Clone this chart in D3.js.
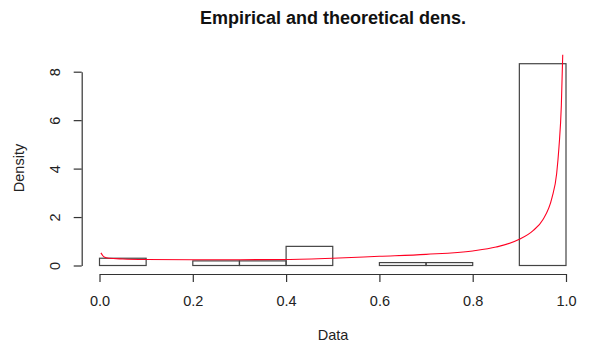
<!DOCTYPE html>
<html>
<head>
<meta charset="utf-8">
<script src="https://cdn.jsdelivr.net/npm/d3@7"></script>
<style>
  html, body { margin: 0; padding: 0; background: #fff; }
  svg { display: block; font-family: "Liberation Sans", Arial, Helvetica, sans-serif; }
</style>
</head>
<body>
<svg id="chart" width="600" height="342"></svg>
<script>
// ---- data ----
const binEdges = [0, 0.1, 0.2, 0.3, 0.4, 0.5, 0.6, 0.7, 0.8, 0.9, 1.0];
const binDensity = [0.30, 0, 0.19, 0.19, 0.79, 0, 0.12, 0.12, 0, 8.33];
const curveX = [0.003, 0.01, 0.02, 0.05, 0.1, 0.2, 0.3, 0.4, 0.5, 0.6, 0.7, 0.8, 0.85, 0.9, 0.93, 0.95, 0.97, 0.98, 0.985, 0.99, 0.993];
const curveY = [0.52, 0.35, 0.30, 0.27, 0.25, 0.24, 0.24, 0.25, 0.30, 0.38, 0.46, 0.60, 0.76, 1.08, 1.45, 1.88, 2.8, 3.8, 4.9, 6.6, 8.7];
const xTicks = [0, 0.2, 0.4, 0.6, 0.8, 1.0];
const yTicks = [0, 2, 4, 6, 8];
const titleText = "Empirical and theoretical dens.";
const xLabel = "Data";
const yLabel = "Density";

// ---- drawing ----
const svg = d3.select("#chart");
const x = d3.scaleLinear().domain([0, 1]).range([99.5, 566]);
const y = d3.scaleLinear().domain([0, 8]).range([265.5, 71.7]);
const axisColor = "#333";
const fontFam = "'Liberation Sans', Arial, sans-serif";

// histogram bars
const bins = binDensity.map((d, i) => ({ x0: binEdges[i], x1: binEdges[i + 1], d }));
svg.append("g")
  .selectAll("rect")
  .data(bins)
  .join("rect")
  .attr("x", b => x(b.x0))
  .attr("width", b => x(b.x1) - x(b.x0))
  .attr("y", b => y(b.d))
  .attr("height", b => y(0) - y(b.d))
  .attr("fill", "none")
  .attr("stroke", "#444")
  .attr("stroke-width", 1.2);

// density curve
const pts = curveX.map((v, i) => [v, curveY[i]]);
svg.append("path")
  .datum(pts)
  .attr("fill", "none")
  .attr("stroke", "#ff0022")
  .attr("stroke-width", 1.1)
  .attr("d", d3.line().x(d => x(d[0])).y(d => y(d[1])).curve(d3.curveMonotoneX));

// x axis
const gx = svg.append("g")
  .attr("transform", "translate(0,274)")
  .call(d3.axisBottom(x).tickValues(xTicks).tickFormat(d3.format(".1f")).tickSize(8).tickSizeOuter(0).tickPadding(14));
gx.select(".domain").attr("stroke", axisColor).attr("stroke-width", 1.2);
gx.selectAll(".tick line").attr("stroke", axisColor).attr("stroke-width", 1.2);
gx.selectAll(".tick text").attr("font-size", 14.5).attr("fill", "#222").attr("font-family", fontFam);

// y axis
const gy = svg.append("g")
  .attr("transform", "translate(81.7,0)")
  .call(d3.axisLeft(y).tickValues(yTicks).tickFormat(d3.format("d")).tickSize(8).tickSizeOuter(0));
gy.select(".domain").attr("stroke", axisColor).attr("stroke-width", 1.2);
gy.selectAll(".tick line").attr("stroke", axisColor).attr("stroke-width", 1.2);
gy.selectAll(".tick text")
  .attr("x", null).attr("dy", null)
  .attr("text-anchor", "middle")
  .attr("transform", "translate(-21.5,0) rotate(-90)")
  .attr("font-size", 14.5).attr("fill", "#222").attr("font-family", fontFam);

// title
svg.append("text")
  .attr("x", 333).attr("y", 24)
  .attr("text-anchor", "middle")
  .attr("font-weight", "bold")
  .attr("font-size", 18)
  .attr("fill", "#111")
  .text(titleText);

// axis labels
svg.append("text")
  .attr("x", 333).attr("y", 339.5)
  .attr("text-anchor", "middle")
  .attr("font-size", 14.5)
  .attr("fill", "#222")
  .text(xLabel);

svg.append("text")
  .attr("transform", "translate(24,168) rotate(-90)")
  .attr("text-anchor", "middle")
  .attr("font-size", 14.5)
  .attr("fill", "#222")
  .text(yLabel);
</script>
</body>
</html>
